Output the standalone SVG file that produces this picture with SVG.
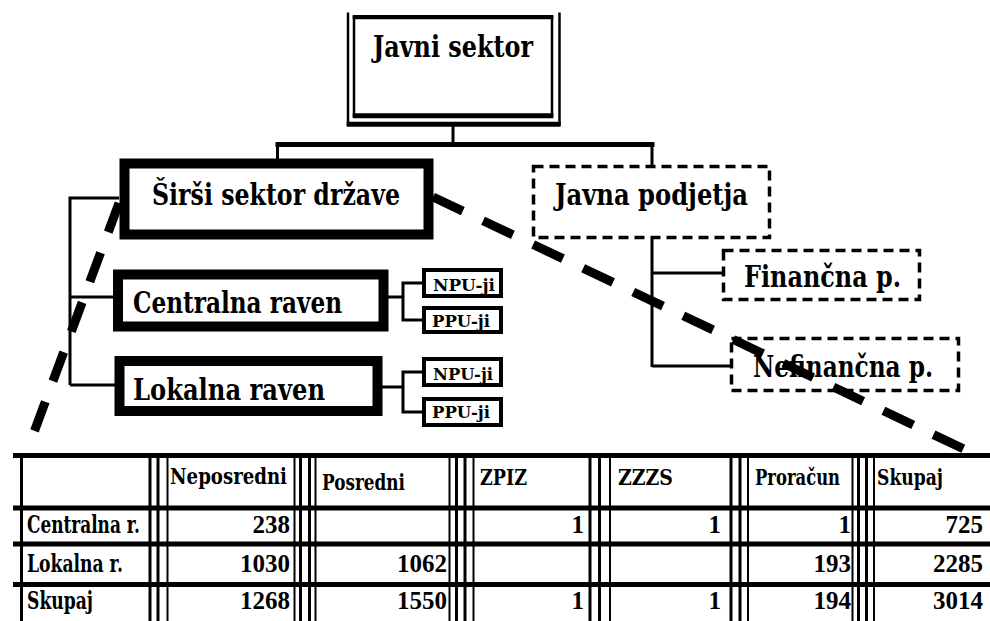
<svg xmlns="http://www.w3.org/2000/svg" width="990" height="621" viewBox="0 0 990 621">
<style>
.t{font-family:"DejaVu Serif","Liberation Serif",serif;font-weight:bold;fill:#000}
.n{font-family:"Liberation Serif","DejaVu Serif",serif;font-weight:bold;fill:#000;font-size:25px}
.L{font-size:30px}
.S{font-size:17px}
.H{font-size:22px}
.C{font-size:24px}
.box{fill:#fff;stroke:#000;stroke-width:10}
.dbox{fill:#fff;stroke:#000;stroke-width:3.5;stroke-dasharray:10 6}
.sbox{fill:#fff;stroke:#000;stroke-width:4}
.ln{stroke:#000;stroke-width:3;fill:none}
.thick{stroke:#000;stroke-width:5;fill:none}
.thin{stroke:#000;stroke-width:2;fill:none}
.vt{stroke:#000;stroke-width:3;fill:none}
.big{stroke:#000;stroke-width:9;fill:none}
</style>

<g id="connectors">
  <line class="ln" x1="453" y1="126" x2="453" y2="145"/>
  <line class="thick" x1="275.5" y1="144.5" x2="654.5" y2="144.5"/>
  <line class="ln" x1="277.5" y1="144" x2="277.5" y2="159"/>
  <line class="ln" x1="652" y1="144" x2="652" y2="166"/>
  <polyline class="ln" points="119,198 70,198 70,385"/>
  <line class="ln" x1="70" y1="297" x2="113" y2="297"/>
  <line class="ln" x1="70" y1="385" x2="115" y2="385"/>
  <line class="ln" x1="388" y1="297" x2="403" y2="297"/>
  <polyline class="ln" points="422,283 403,283 403,320 422,320"/>
  <line class="ln" x1="382" y1="387" x2="403" y2="387"/>
  <polyline class="ln" points="422,372 403,372 403,412 422,412"/>
  <line class="ln" x1="652" y1="239" x2="652" y2="367"/>
  <line class="ln" x1="652" y1="273" x2="722" y2="273"/>
  <line class="ln" x1="652" y1="366" x2="730" y2="366"/>
</g>

<g id="javni-sektor">
  <polyline fill="none" stroke="#000" stroke-width="2.5" points="348,12.5 348,124 559.5,124 559.5,12.5"/>
  <line x1="346.7" y1="124.2" x2="560.7" y2="124.2" stroke="#000" stroke-width="5"/>
  <rect x="354" y="17" width="198" height="99" fill="#fff" stroke="#000" stroke-width="2.5"/>
  <line x1="352.7" y1="17.2" x2="553.3" y2="17.2" stroke="#000" stroke-width="4.3"/>
  <line x1="352.7" y1="115.8" x2="553.3" y2="115.8" stroke="#000" stroke-width="5"/>
  <text class="t L" x="373" y="57" textLength="160" lengthAdjust="spacingAndGlyphs">Javni sektor</text>
</g>

<g id="sirsi-sektor">
  <rect class="box" x="124.5" y="163.5" width="304" height="71"/>
  <text class="t L" x="152" y="205" textLength="248" lengthAdjust="spacingAndGlyphs">Širši sektor države</text>
</g>

<g id="javna-podjetja">
  <rect class="dbox" x="533.5" y="166.5" width="236" height="71"/>
  <text class="t L" x="555" y="205" textLength="193" lengthAdjust="spacingAndGlyphs">Javna podjetja</text>
</g>

<g id="centralna-raven">
  <rect class="box" x="118" y="274.5" width="265.5" height="52"/>
  <text class="t L" x="133" y="313" textLength="209" lengthAdjust="spacingAndGlyphs">Centralna raven</text>
</g>

<g id="lokalna-raven">
  <rect class="box" x="119.5" y="361" width="258" height="50"/>
  <text class="t L" x="133" y="400" textLength="192" lengthAdjust="spacingAndGlyphs">Lokalna raven</text>
</g>

<g id="centralna-npu">
  <rect class="sbox" x="424" y="270" width="77" height="26"/>
  <text class="t S" x="433" y="291" textLength="62" lengthAdjust="spacingAndGlyphs">NPU-ji</text>
</g>
<g id="centralna-ppu">
  <rect class="sbox" x="424" y="308" width="77" height="24"/>
  <text class="t S" x="432" y="327" textLength="58" lengthAdjust="spacingAndGlyphs">PPU-ji</text>
</g>
<g id="lokalna-npu">
  <rect class="sbox" x="424" y="359" width="77" height="26"/>
  <text class="t S" x="433" y="380" textLength="60" lengthAdjust="spacingAndGlyphs">NPU-ji</text>
</g>
<g id="lokalna-ppu">
  <rect class="sbox" x="424" y="399" width="77" height="26"/>
  <text class="t S" x="432" y="418" textLength="58" lengthAdjust="spacingAndGlyphs">PPU-ji</text>
</g>

<g id="financna">
  <rect class="dbox" x="723.5" y="250.5" width="196" height="49"/>
  <text class="t L" x="744" y="287" textLength="157" lengthAdjust="spacingAndGlyphs">Finančna p.</text>
</g>

<g id="nefinancna">
  <rect class="dbox" x="731.5" y="338.5" width="227" height="52"/>
  <text class="t L" x="753" y="377" textLength="180" lengthAdjust="spacingAndGlyphs">Nefinančna p.</text>
</g>

<g id="table">
  <line class="thick" x1="13" y1="455.5" x2="990" y2="455.5"/>
  <line class="thick" x1="13" y1="508" x2="990" y2="508"/>
  <line class="thick" x1="13" y1="544" x2="990" y2="544"/>
  <line class="thick" x1="13" y1="584.5" x2="990" y2="584.5"/>
  <line class="vt" x1="21.5" y1="453" x2="21.5" y2="621"/>
  <line class="vt" x1="150" y1="453" x2="150" y2="621"/>
  <line class="vt" x1="158" y1="453" x2="158" y2="621"/>
  <line class="thin" x1="167.5" y1="453" x2="167.5" y2="621"/>
  <line class="thin" x1="294.5" y1="453" x2="294.5" y2="621"/>
  <line class="vt" x1="300.5" y1="453" x2="300.5" y2="621"/>
  <line class="vt" x1="309.5" y1="453" x2="309.5" y2="621"/>
  <line class="thin" x1="315.5" y1="453" x2="315.5" y2="621"/>
  <line class="thin" x1="449.5" y1="453" x2="449.5" y2="621"/>
  <line class="vt" x1="456.5" y1="453" x2="456.5" y2="621"/>
  <line class="vt" x1="465" y1="453" x2="465" y2="621"/>
  <line class="thin" x1="473.5" y1="453" x2="473.5" y2="621"/>
  <line class="vt" x1="590" y1="453" x2="590" y2="621"/>
  <line class="vt" x1="599.5" y1="453" x2="599.5" y2="621"/>
  <line class="thin" x1="610" y1="453" x2="610" y2="621"/>
  <line class="vt" x1="731" y1="453" x2="731" y2="621"/>
  <line class="vt" x1="740" y1="453" x2="740" y2="621"/>
  <line class="thin" x1="748" y1="453" x2="748" y2="621"/>
  <line class="thin" x1="852.5" y1="453" x2="852.5" y2="621"/>
  <line class="vt" x1="858.5" y1="453" x2="858.5" y2="621"/>
  <line class="vt" x1="866.5" y1="453" x2="866.5" y2="621"/>
  <line class="thin" x1="874" y1="453" x2="874" y2="621"/>

  <text class="t H" x="170" y="484" textLength="117" lengthAdjust="spacingAndGlyphs">Neposredni</text>
  <text class="t H" x="322" y="490" textLength="83" lengthAdjust="spacingAndGlyphs">Posredni</text>
  <text class="t H" x="480" y="485" textLength="47" lengthAdjust="spacingAndGlyphs">ZPIZ</text>
  <text class="t H" x="618" y="485" textLength="55" lengthAdjust="spacingAndGlyphs">ZZZS</text>
  <text class="t H" x="755" y="485" textLength="85" lengthAdjust="spacingAndGlyphs">Proračun</text>
  <text class="t H" x="877" y="485" textLength="66" lengthAdjust="spacingAndGlyphs">Skupaj</text>

  <text class="t C" x="27" y="533" textLength="113" lengthAdjust="spacingAndGlyphs">Centralna r.</text>
  <text class="t C" x="27" y="572" textLength="96" lengthAdjust="spacingAndGlyphs">Lokalna r.</text>
  <text class="t C" x="27" y="609" textLength="66" lengthAdjust="spacingAndGlyphs">Skupaj</text>

  <text class="n" x="290" y="533" text-anchor="end">238</text>
  <text class="n" x="584" y="533" text-anchor="end">1</text>
  <text class="n" x="721" y="533" text-anchor="end">1</text>
  <text class="n" x="851" y="533" text-anchor="end">1</text>
  <text class="n" x="983" y="533" text-anchor="end">725</text>

  <text class="n" x="290" y="572" text-anchor="end">1030</text>
  <text class="n" x="447" y="572" text-anchor="end">1062</text>
  <text class="n" x="851" y="572" text-anchor="end">193</text>
  <text class="n" x="983" y="572" text-anchor="end">2285</text>

  <text class="n" x="290" y="609" text-anchor="end">1268</text>
  <text class="n" x="447" y="609" text-anchor="end">1550</text>
  <text class="n" x="584" y="609" text-anchor="end">1</text>
  <text class="n" x="721" y="609" text-anchor="end">1</text>
  <text class="n" x="851" y="609" text-anchor="end">194</text>
  <text class="n" x="983" y="609" text-anchor="end">3014</text>
</g>

<g id="zoom-lines">
  <line class="big" x1="119" y1="203" x2="30" y2="443" stroke-dasharray="31 22"/>
  <line class="big" x1="433" y1="197" x2="966" y2="450" stroke-dasharray="33 22.4"/>
</g>
</svg>
